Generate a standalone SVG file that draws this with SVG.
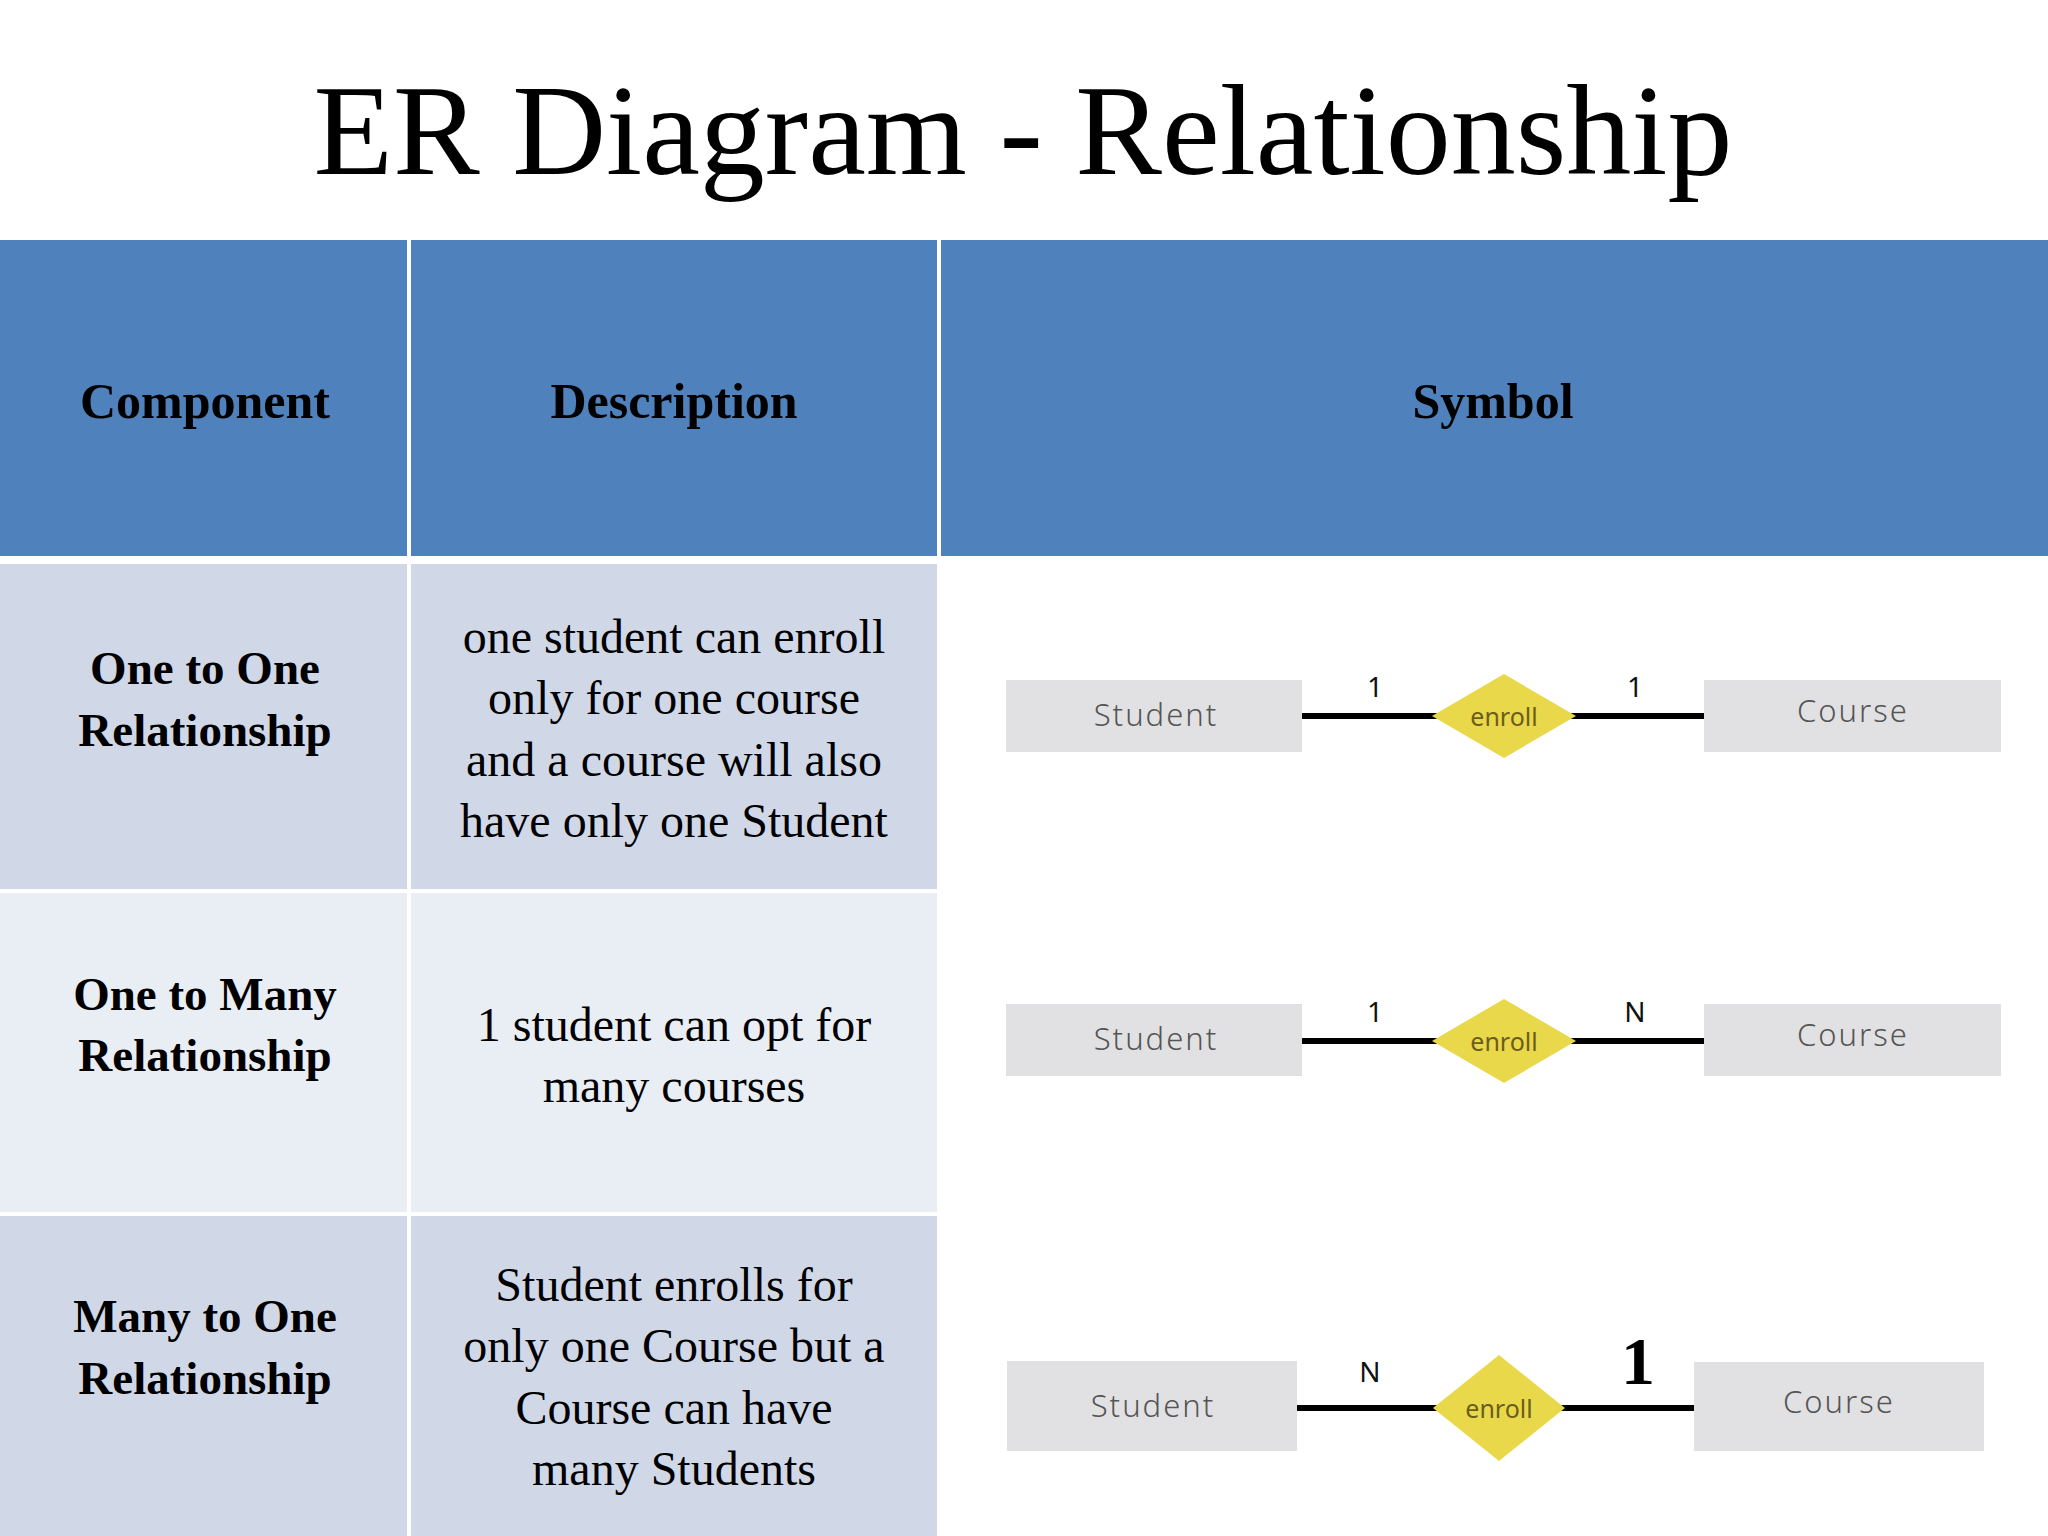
<svg xmlns="http://www.w3.org/2000/svg" width="2048" height="1536" viewBox="0 0 2048 1536">
<style>
.h{fill:#4F81BD}.d{fill:#D0D8E8}.l{fill:#E9EDF4}
.ht{font-family:"Liberation Serif",serif;font-weight:bold;font-size:50px;text-anchor:middle;fill:#000}
.ct{font-family:"Liberation Serif",serif;font-weight:bold;font-size:47px;text-anchor:middle;fill:#000}
.dt{font-family:"Liberation Serif",serif;font-size:48px;text-anchor:middle;fill:#000}
.box{fill:#E1E1E3}
.bt{font-family:"Noto Sans",sans-serif;font-weight:300;font-size:31px;text-anchor:middle;fill:#555;letter-spacing:2px}
.dia{fill:#E8D84A}
.et{font-family:"Noto Sans",sans-serif;font-size:25px;text-anchor:middle;fill:#6b5d1a}
.lb{font-family:"Noto Sans",sans-serif;font-size:28px;text-anchor:middle;fill:#111}
.ln{stroke:#000;stroke-width:6}
</style>
<rect width="2048" height="1536" fill="#fff"/>
<text x="1023" y="174" font-family="Liberation Serif,serif" font-size="130" text-anchor="middle">ER Diagram - Relationship</text>
<g id="table">
<rect class="h" x="0" y="240" width="407" height="316"/>
<rect class="h" x="411" y="240" width="526" height="316"/>
<rect class="h" x="941" y="240" width="1107" height="316"/>
<rect class="d" x="0" y="564" width="407" height="325"/>
<rect class="d" x="411" y="564" width="526" height="325"/>
<rect class="l" x="0" y="893" width="407" height="319"/>
<rect class="l" x="411" y="893" width="526" height="319"/>
<rect class="d" x="0" y="1216" width="407" height="320"/>
<rect class="d" x="411" y="1216" width="526" height="320"/>
<text class="ht" x="205" y="418">Component</text>
<text class="ht" x="674" y="418">Description</text>
<text class="ht" x="1493" y="418">Symbol</text>
<text class="ct" x="205" y="684">One to One</text>
<text class="ct" x="205" y="746">Relationship</text>
<text class="dt" x="674" y="653">one student can enroll</text>
<text class="dt" x="674" y="714">only for one course</text>
<text class="dt" x="674" y="776">and a course will also</text>
<text class="dt" x="674" y="837">have only one Student</text>
<text class="ct" x="205" y="1010">One to Many</text>
<text class="ct" x="205" y="1071">Relationship</text>
<text class="dt" x="674" y="1041">1 student can opt for</text>
<text class="dt" x="674" y="1102">many courses</text>
<text class="ct" x="205" y="1332">Many to One</text>
<text class="ct" x="205" y="1394">Relationship</text>
<text class="dt" x="674" y="1301">Student enrolls for</text>
<text class="dt" x="674" y="1362">only one Course but a</text>
<text class="dt" x="674" y="1424">Course can have</text>
<text class="dt" x="674" y="1485">many Students</text>
</g>
<g id="connectors">
<line class="ln" x1="1302" y1="716" x2="1704" y2="716"/>
<line class="ln" x1="1302" y1="1041" x2="1704" y2="1041"/>
<line class="ln" x1="1297" y1="1408" x2="1694" y2="1408"/>
</g>
<g id="row1">
<rect class="box" x="1006" y="680" width="296" height="72"/>
<text class="bt" x="1156" y="726">Student</text>
<rect class="box" x="1704" y="680" width="297" height="72"/>
<text class="bt" x="1853" y="722">Course</text>
<polygon class="dia" points="1504,674 1576,716 1504,758 1432,716"/>
<text class="et" x="1504" y="726">enroll</text>
<text class="lb" x="1375" y="697">1</text>
<text class="lb" x="1635" y="697">1</text>
</g>
<g id="row2">
<rect class="box" x="1006" y="1004" width="296" height="72"/>
<text class="bt" x="1156" y="1050">Student</text>
<rect class="box" x="1704" y="1004" width="297" height="72"/>
<text class="bt" x="1853" y="1046">Course</text>
<polygon class="dia" points="1504,999 1576,1041 1504,1083 1432,1041"/>
<text class="et" x="1504" y="1051">enroll</text>
<text class="lb" x="1375" y="1022">1</text>
<text class="lb" x="1635" y="1022">N</text>
</g>
<g id="row3">
<rect class="box" x="1007" y="1361" width="290" height="90"/>
<text class="bt" x="1153" y="1417">Student</text>
<rect class="box" x="1694" y="1362" width="290" height="89"/>
<text class="bt" x="1839" y="1413">Course</text>
<polygon class="dia" points="1499,1355 1565,1408 1499,1461 1433,1408"/>
<text class="et" x="1499" y="1418">enroll</text>
<text class="lb" x="1370" y="1382">N</text>
<text x="1638" y="1384" font-family="Liberation Serif,serif" font-weight="bold" font-size="68" text-anchor="middle">1</text>
</g>
</svg>
